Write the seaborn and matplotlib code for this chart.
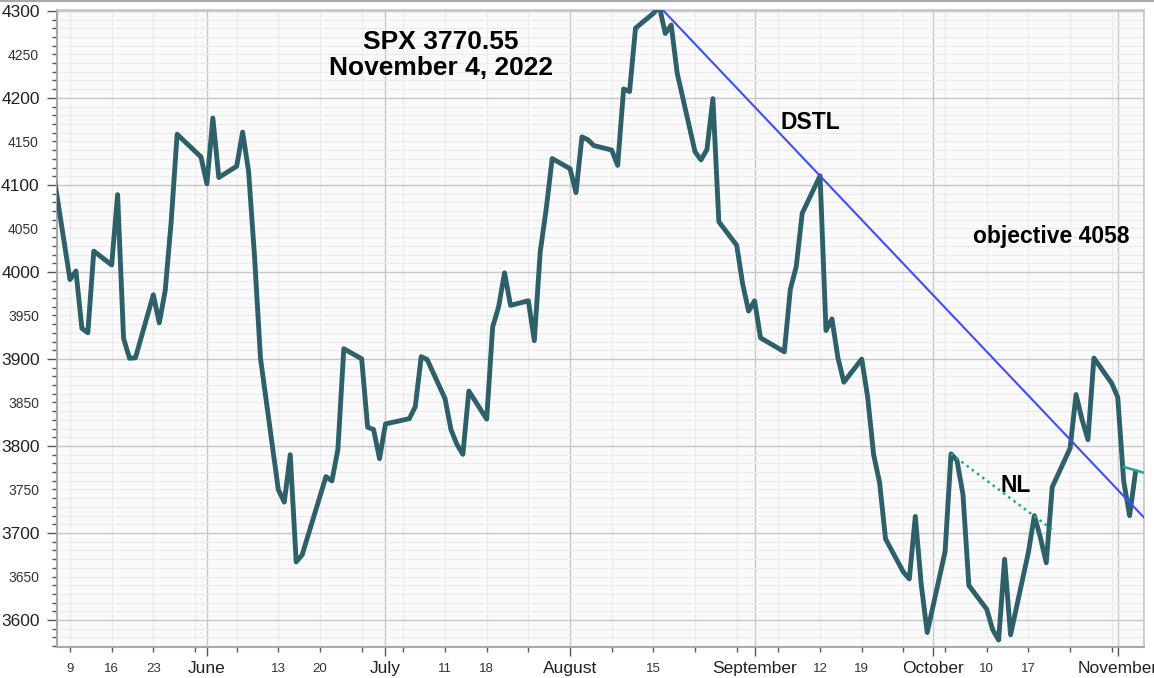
import numpy as np
import pandas as pd
import matplotlib
matplotlib.use("Agg")
import matplotlib.pyplot as plt
import matplotlib.dates as mdates
from matplotlib.lines import Line2D
import seaborn as sns

# ---------------- data ----------------
dates = [
    "2022-05-06", "2022-05-09", "2022-05-10", "2022-05-11", "2022-05-12", "2022-05-13",
    "2022-05-16", "2022-05-17", "2022-05-18", "2022-05-19", "2022-05-20",
    "2022-05-23", "2022-05-24", "2022-05-25", "2022-05-26", "2022-05-27",
    "2022-05-31", "2022-06-01", "2022-06-02", "2022-06-03",
    "2022-06-06", "2022-06-07", "2022-06-08", "2022-06-09", "2022-06-10",
    "2022-06-13", "2022-06-14", "2022-06-15", "2022-06-16", "2022-06-17",
    "2022-06-21", "2022-06-22", "2022-06-23", "2022-06-24",
    "2022-06-27", "2022-06-28", "2022-06-29", "2022-06-30", "2022-07-01",
    "2022-07-05", "2022-07-06", "2022-07-07", "2022-07-08",
    "2022-07-11", "2022-07-12", "2022-07-13", "2022-07-14", "2022-07-15",
    "2022-07-18", "2022-07-19", "2022-07-20", "2022-07-21", "2022-07-22",
    "2022-07-25", "2022-07-26", "2022-07-27", "2022-07-28", "2022-07-29",
    "2022-08-01", "2022-08-02", "2022-08-03", "2022-08-04", "2022-08-05",
    "2022-08-08", "2022-08-09", "2022-08-10", "2022-08-11", "2022-08-12",
    "2022-08-15", "2022-08-16", "2022-08-17", "2022-08-18", "2022-08-19",
    "2022-08-22", "2022-08-23", "2022-08-24", "2022-08-25", "2022-08-26",
    "2022-08-29", "2022-08-30", "2022-08-31", "2022-09-01", "2022-09-02",
    "2022-09-06", "2022-09-07", "2022-09-08", "2022-09-09",
    "2022-09-12", "2022-09-13", "2022-09-14", "2022-09-15", "2022-09-16",
    "2022-09-19", "2022-09-20", "2022-09-21", "2022-09-22", "2022-09-23",
    "2022-09-26", "2022-09-27", "2022-09-28", "2022-09-29", "2022-09-30",
    "2022-10-03", "2022-10-04", "2022-10-05", "2022-10-06", "2022-10-07",
    "2022-10-10", "2022-10-11", "2022-10-12", "2022-10-13", "2022-10-14",
    "2022-10-17", "2022-10-18", "2022-10-19", "2022-10-20", "2022-10-21",
    "2022-10-24", "2022-10-25", "2022-10-26", "2022-10-27", "2022-10-28",
    "2022-10-31", "2022-11-01", "2022-11-02", "2022-11-03", "2022-11-04",
]
closes = [
    4123.34, 3991.24, 4001.05, 3935.18, 3930.08, 4023.89,
    4008.01, 4088.85, 3923.68, 3900.79, 3901.36,
    3973.75, 3941.48, 3978.73, 4057.84, 4158.24,
    4132.15, 4101.23, 4176.82, 4108.54,
    4121.43, 4160.68, 4115.77, 4017.82, 3900.86,
    3749.63, 3735.48, 3789.99, 3666.77, 3674.84,
    3764.79, 3759.89, 3795.73, 3911.74,
    3900.11, 3821.55, 3818.83, 3785.38, 3825.33,
    3831.39, 3845.08, 3902.62, 3899.38,
    3854.43, 3818.80, 3801.78, 3790.38, 3863.16,
    3830.85, 3936.69, 3959.90, 3998.95, 3961.63,
    3966.84, 3921.05, 4023.61, 4072.43, 4130.29,
    4118.63, 4091.19, 4155.17, 4151.94, 4145.19,
    4140.06, 4122.47, 4210.24, 4207.27, 4280.15,
    4297.14, 4305.20, 4274.04, 4283.74, 4228.48,
    4137.99, 4128.73, 4140.77, 4199.12, 4057.66,
    4030.61, 3986.16, 3955.00, 3966.85, 3924.26,
    3908.19, 3979.87, 4006.18, 4067.36,
    4110.41, 3932.69, 3946.01, 3901.35, 3873.33,
    3899.89, 3855.93, 3789.93, 3757.99, 3693.23,
    3655.04, 3647.29, 3719.04, 3640.47, 3585.62,
    3678.43, 3790.93, 3783.28, 3744.52, 3639.66,
    3612.39, 3588.84, 3577.03, 3669.91, 3583.07,
    3677.95, 3719.98, 3695.16, 3665.78, 3752.75,
    3797.34, 3859.11, 3830.60, 3807.30, 3901.06,
    3871.98, 3856.10, 3759.69, 3719.89, 3770.55,
]

# trend lines (annotations)
dstl_dates = ["2022-08-16", "2022-11-06"]
dstl_values = [4305.20, 3713.6]
nl_dates = ["2022-10-04", "2022-10-21"]
nl_values = [3790.93, 3704.0]
proj_dates = ["2022-11-02", "2022-11-06"]
proj_values = [3776.0, 3768.0]

# axis ticks
month_dates = ["2022-06-01", "2022-07-01", "2022-08-01", "2022-09-01", "2022-10-01", "2022-11-01"]
month_labels = ["June", "July", "August", "September", "October", "November"]
monday_dates = ["2022-05-09", "2022-05-16", "2022-05-23", "2022-05-30", "2022-06-06",
                "2022-06-13", "2022-06-20", "2022-06-27", "2022-07-04", "2022-07-11",
                "2022-07-18", "2022-07-25", "2022-08-08", "2022-08-15", "2022-08-22",
                "2022-08-29", "2022-09-05", "2022-09-12", "2022-09-19", "2022-09-26",
                "2022-10-03", "2022-10-10", "2022-10-17", "2022-10-24", "2022-10-31"]
monday_labels = ["9", "16", "23", "", "", "13", "20", "", "", "11", "18", "", "", "15", "",
                 "", "", "12", "19", "", "", "10", "17", "", ""]
y_major = [3600, 3700, 3800, 3900, 4000, 4100, 4200, 4300]
y_minor = list(range(3570, 4301, 10))

# ---------------- styling ----------------
sns.set_theme(style="white")
plt.rcParams["font.family"] = ["Liberation Sans", "DejaVu Sans"]

W, H = 1154, 678
fig = plt.figure(figsize=(W / 100, H / 100), dpi=100)
L, R, T, B = 57, 1144, 10, 647
ax = fig.add_axes([L / W, 1 - B / H, (R - L) / W, (B - T) / H])
ax.set_facecolor("#fafafa")

df = pd.DataFrame({"date": pd.to_datetime(dates), "close": closes})
sns.lineplot(data=df, x="date", y="close", ax=ax, color="#2e6069", lw=3.5, zorder=5)

ddf = pd.DataFrame({"date": pd.to_datetime(dstl_dates), "v": dstl_values})
sns.lineplot(data=ddf, x="date", y="v", ax=ax, color="#3f4cff", lw=1.5, zorder=6)
ndf = pd.DataFrame({"date": pd.to_datetime(nl_dates), "v": nl_values})
sns.lineplot(data=ndf, x="date", y="v", ax=ax, color="#17a98a", lw=1.8,
             linestyle=(0, (1, 1.6)), zorder=6)
pdf_ = pd.DataFrame({"date": pd.to_datetime(proj_dates), "v": proj_values})
sns.lineplot(data=pdf_, x="date", y="v", ax=ax, color="#17a98a", lw=1.8, zorder=6)

ax.set_xlim(pd.Timestamp("2022-05-06 19:40"), pd.Timestamp("2022-11-05 10:00"))
ax.set_ylim(3569, 4301)

ax.set_xticks(mdates.date2num(pd.to_datetime(month_dates)))
ax.set_xticklabels(month_labels)
ax.set_xticks(mdates.date2num(pd.to_datetime(monday_dates)), minor=True)
ax.set_xticklabels(monday_labels, minor=True)
ax.set_yticks(y_major)
ax.set_yticklabels([str(v) for v in y_major])
ax.set_yticks(y_minor, minor=True)
ax.set_yticklabels([str(v) if v % 100 == 50 else "" for v in y_minor], minor=True)

ax.tick_params(axis="y", which="major", left=True, length=7, width=1, color="#555555",
               labelsize=12.5, pad=5.5, labelcolor="#222222")
ax.tick_params(axis="y", which="minor", left=True, length=3.5, width=1, color="#555555",
               labelsize=10, pad=9.5, labelcolor="#333333")
ax.tick_params(axis="x", which="major", bottom=True, length=6.5, width=1, color="#555555",
               labelsize=12.5, pad=3.5, labelcolor="#222222")
ax.tick_params(axis="x", which="minor", bottom=True, length=3.5, width=1, color="#555555",
               labelsize=9.5, pad=8, labelcolor="#333333")

ax.grid(which="major", color="#c8c8c8", lw=1)
ax.grid(which="minor", color="#ebebeb", lw=0.8)
ax.set_axisbelow(True)
ax.set_xlabel("")
ax.set_ylabel("")

for s in ["left", "bottom"]:
    ax.spines[s].set_color("#a8a8a8")
    ax.spines[s].set_linewidth(1.5)
for s in ["top", "right"]:
    ax.spines[s].set_color("#c4c4c4")
    ax.spines[s].set_linewidth(1.2)

# annotations
ax.text(0.353, 0.929, "SPX 3770.55\nNovember 4, 2022", transform=ax.transAxes,
        ha="center", va="center", fontsize=19, fontweight="bold", linespacing=1.1,
        color="black", zorder=10)
ax.text(0.693, 0.824, "DSTL", transform=ax.transAxes, ha="center", va="center",
        fontsize=16.5, fontweight="bold", color="black", zorder=10)
ax.text(0.915, 0.644, "objective 4058", transform=ax.transAxes, ha="center", va="center",
        fontsize=16.5, fontweight="bold", color="black", zorder=10)
ax.text(0.882, 0.254, "NL", transform=ax.transAxes, ha="center", va="center",
        fontsize=16.5, fontweight="bold", color="black", zorder=10)

fig.add_artist(Line2D([0, 1], [1 - 1 / H, 1 - 1 / H], color="#a8a8a8", lw=1.5))

fig.savefig("out.png", dpi=100)
